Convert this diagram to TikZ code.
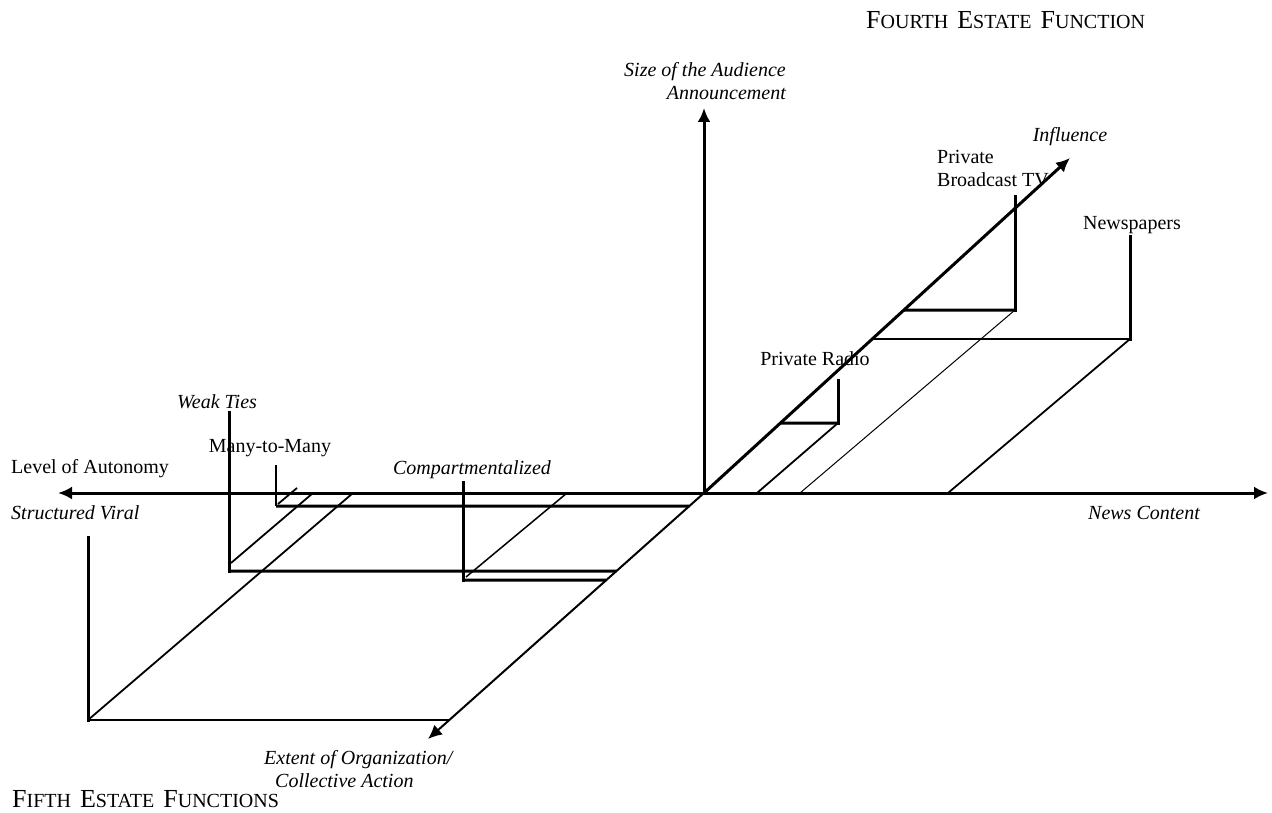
\documentclass[tikz,border=0pt]{standalone}
\usepackage{fontspec}
\setmainfont{Liberation Serif}
\usetikzlibrary{arrows.meta,calc}

% faked small capitals: large initial, smaller upper-case rest
\newcommand\fsc[2]{{\fontsize{26}{26}\selectfont #1}{\fontsize{20}{20}\selectfont #2}}
\newcommand\fgap{\hspace{9pt}}

\begin{document}
\begin{tikzpicture}[x=1pt,y=-1pt,
  axis/.style={line width=3pt,-{Latex[length=14pt,width=13pt]}},
  post/.style={line width=3pt,line cap=rect},
  base/.style={line width=3pt},
  thinbase/.style={line width=1.6pt},
  slant/.style={line width=1.8pt},
  hair/.style={line width=1pt},
  lbl/.style={inner sep=0pt,font=\fontsize{20}{23}\selectfont},
  ilbl/.style={inner sep=0pt,font=\fontsize{20}{23}\selectfont\itshape},
  title/.style={inner sep=0pt,anchor=west}]
\useasboundingbox (0,0) rectangle (1272,813);

% ---- axes ----
\coordinate (O) at (704,493);
\coordinate (W) at (58,493);
\coordinate (E) at (1268,493);
\coordinate (N) at (704,108);
\coordinate (NE) at (1070,158);
\coordinate (SW) at (428,739);
\draw[axis] (O) -- (W);
\draw[axis] (O) -- (E);
\draw[axis] (O) -- (N);
\draw[axis] (O) -- (NE);
\draw[line width=2pt,-{Latex[length=14pt,width=13pt]}] (O) -- (SW);

% points on the oblique axis at a given height
\coordinate (tvD) at ($(O)!{(493-310)/335}!(NE)$);
\coordinate (npD) at ($(O)!{(493-339)/335}!(NE)$);
\coordinate (prD) at ($(O)!{(493-423)/335}!(NE)$);
\coordinate (wtD) at ($(O)!{(571-493)/246}!(SW)$);
\coordinate (cmD) at ($(O)!{(580-493)/246}!(SW)$);
\coordinate (mmD) at ($(O)!{(506-493)/246}!(SW)$);
\coordinate (svD) at ($(O)!{(720-493)/246}!(SW)$);

% ---- Private Broadcast TV ----
\coordinate (tvT) at (1015,197);
\coordinate (tvC) at (1015,310);
\coordinate (tvF) at (800,493);
\draw[post] (tvT) -- (tvC);
\draw[base] (tvC) -- (tvD);
\draw[hair] (tvC) -- (tvF);

% ---- Newspapers ----
\coordinate (npT) at (1130,237);
\coordinate (npC) at (1130,339);
\coordinate (npF) at (948,493);
\draw[post] (npT) -- (npC);
\draw[thinbase] (npC) -- (npD);
\draw[slant] (npC) -- (npF);

% ---- Private Radio ----
\coordinate (prT) at (838,380);
\coordinate (prC) at (838,423);
\coordinate (prF) at (757,493);
\draw[post] (prT) -- (prC);
\draw[base] (prC) -- (prD);
\draw[slant] (prC) -- (prF);

% ---- Weak Ties ----
\coordinate (wtT) at (229,412);
\coordinate (wtC) at (229,571);
\coordinate (wtS) at (231,563);
\coordinate (wtF) at (313,493);
\draw[post] (wtT) -- (wtC);
\draw[base] (wtC) -- (wtD);
\draw[slant] (wtS) -- (wtF);

% ---- Many-to-Many ----
\coordinate (mmT) at (276,465);
\coordinate (mmC) at (276,506);
\coordinate (mmS) at (278,504);
\coordinate (mmF) at (297,488);
\draw[line width=2pt] (mmT) -- (mmC);
\draw[base] (mmC) -- (mmD);
\draw[slant] (mmS) -- (mmF);

% ---- Compartmentalized ----
\coordinate (cmT) at (463,482);
\coordinate (cmC) at (463,580);
\coordinate (cmS) at (466,577);
\coordinate (cmF) at (567,493);
\draw[post] (cmT) -- (cmC);
\draw[base] (cmC) -- (cmD);
\draw[line width=1.5pt] (cmS) -- (cmF);

% ---- Structured Viral ----
\coordinate (svT) at (88,537);
\coordinate (svC) at (88,720);
\coordinate (svF) at (353,493);
\draw[post] (svT) -- (svC);
\draw[thinbase] (svC) -- (svD);
\draw[slant] (svC) -- (svF);

% ---- labels ----
\node[title] (t4) at (866,20) {\fsc{F}{OURTH}\fgap\fsc{E}{STATE}\fgap\fsc{F}{UNCTION}};
\node[title] (t5) at (12,799) {\fsc{F}{IFTH}\fgap\fsc{E}{STATE}\fgap\fsc{F}{UNCTIONS}};

\node[ilbl,align=right,anchor=east] (aud) at (786,81) {Size of the Audience\\Announcement};
\node[ilbl] (inf) at (1070,137) {Influence};
\node[lbl,align=left,anchor=west] (tv) at (937,169) {Private\\Broadcast TV};
\node[lbl] (np) at (1132,225) {Newspapers};
\node[lbl] (pr) at (815,359) {Private Radio};
\node[ilbl] (wt) at (217,402) {Weak Ties};
\node[lbl] (mm) at (270,448) {Many-to-Many};
\node[lbl,anchor=west] (la) at (11,469) {Level of Autonomy};
\node[ilbl] (cm) at (472,470) {Compartmentalized};
\node[ilbl,anchor=west] (sv) at (11,513) {Structured Viral};
\node[ilbl] (nc) at (1144,513) {News Content};
\node[ilbl,align=left,anchor=west] (eo) at (264,769) {Extent of Organization/\\\hspace{11pt}Collective Action};
\end{tikzpicture}
\end{document}
